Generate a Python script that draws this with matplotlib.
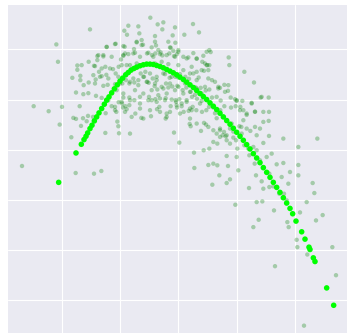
import matplotlib
matplotlib.use("Agg")
import matplotlib.pyplot as plt
import seaborn as sns
from matplotlib.ticker import MultipleLocator

sns.set_style("darkgrid")

scatter_x = [
    -84, -265, -150, -120, -62, -45, -10, 44, 62, -162, -154, -117, -70, -48, -17, 18,
    -125, -110, -106, -67, -30, -9, -366, -361,
    -188, -215, -161, -133, -80, -60, -53, -23, -15, 0, -4, 93, 97, 45,
    -240, -225, -160, -165, -150, -130, -94, -79, -69, -48, -27, -13, 15, 30, 55, 75, 72, 87, 93, 151, 153,
    -303, -318, -303, -294, -290, -269, -253, -243, -238, -219, -216, -196, -188, -179, -172, -155, -140,
    -124, -113, -99, -89, -77, -65, -40, -26, -9, 5, 21, 32, 45, 55, 61, 77, 90, 101,
    -294, -307, -284, -269, -248, -230, -225, -212, -190, -190, -168, -157, -147, -132, -120, -103, -93,
    -71, -63, -45, -37, -30, -18, -3, 13, 24, 37, 52, 67, 82, 93, 110, 120, 125, 138, 149, 198, 227,
    -285, -270, -247, -230, -215, -200, -190, -179, -169, -165, -147, -132, -115, -88, -80, -69, -55,
    -38, -20, -8, 3, 10, 25, 41, 50, 56, 70, 85, 101, 115, 127, 157, 170, 175, 192, 247, 271, 220,
    -434, -389, -349, -296, -315, -286, -271, -256, -275, -218, -186, -183, -166, -159, -155, -147,
    -129, -111, -82, -64, -57, -38, -35, -23, -7, -4, 10, 16, 31, 35, 43, 54, 71, 84, 92, 105, 110,
    115, 126, 138, 158, 172, 186, 195, 205, 230, 255, 272,
    -356, -321, -307, -292, -219, -180, -178, -145, -13, 3, 34, 37, 55, 68, 77, 83, 90, 105, 115,
    125, 133, 142, 137, 155, 165, 183, 189, 205, 216, 230, 255, 271, 315, 417,
    -308, -253, -231, -469,
    47, 76, 93, 105, 117, 125, 145, 155, 165, 173, 177, 198, 210, 225, 235, 255, 272, 280, 315, 335,
    360, 360, 48, 90, 105, 117, 145, 149, 175, 180, 213, 229, 245, 255, 265, 273, 295, 310, 330, 360,
    403, 408,
    102, 123, 145, 155, 212, 233, 250, 255, 273, 285, 303, 317,
    171, 235, 252, 287, 325, 327, 331, 355, 357, 365, 385, 413, 433, 225, 241, 290, 387, 462, 473, 377,
    -215, -190, -165, -125, -110, -70, -25, 0, 85,
    -243, -225, -200, -165, -135, -115, -90, -75, -55, -35, -10, 25, 55, 80,
    -250, -230, -205, -170, -145, -125, -70, -50, -30, 0, 15, 40, 70, 85,
    -255, -235, -210, -180, -155, -135, -105, -85, -65, -45, -20, 0, 35, 55, 90,
    -250, -175, -145, -120, -95, -70, -50, -25, 0, 20, 55, 80,
    -185, -165, -130, -105, -80, -60, -35, -10, 15, 35, 70,
    -210, -170, -145, -115, -90, -65, -40, -5, 25, 65,
    -190, -160, -115, -85, -55, -25, 5, 40,
    -140, -105, -35, 35,
    120, 150, 140, 175, 220, 250, 185, 205, 230, 135, 160, 195, 245, 125, 145, 190, 235,
]
scatter_y = [
    395, 360, 371, 369, 375, 381, 366, 376, 351, 356, 344, 348, 340, 360, 342, 344,
    321, 328, 314, 312, 323, 320, 315, 263,
    317, 307, 308, 301, 306, 298, 291, 305, 296, 293, 286, 298, 292, 289,
    283, 279, 288, 281, 286, 290, 288, 283, 288, 282, 288, 280, 278, 276, 272, 281, 263, 253, 253, 276, 253,
    252, 215, 239, 221, 253, 263, 251, 268, 233, 248, 224, 241, 228, 248, 270, 253, 241,
    246, 228, 233, 200, 213, 208, 226, 215, 218, 226, 218, 212, 228, 233, 216, 236, 238, 208,
    208, 171, 193, 201, 210, 220, 191, 194, 196, 183, 198, 208, 198, 201, 208, 218, 203,
    190, 180, 183, 198, 186, 189, 191, 178, 186, 173, 186, 185, 177, 180, 203, 183, 185, 194, 176, 233, 201,
    166, 169, 161, 155, 149, 130, 128, 142, 138, 156, 156, 148, 158, 158, 148, 151, 153,
    154, 150, 148, 151, 138, 148, 158, 164, 152, 146, 148, 156, 158, 147, 156, 151, 146, 146, 156, 156, 140,
    130, 115, 128, 130, 95, 94, 101, 98, 85, 109, 113, 84, 126, 130, 121, 133,
    108, 95, 100, 121, 128, 93, 108, 130, 143, 126, 130, 113, 116, 123, 128, 118, 113, 118, 128, 126, 109,
    94, 118, 130, 126, 130, 128, 118, 104, 114, 113, 113,
    75, 37, 92, 71, 50, 70, 49, 48, 51, 21, 77, 70, 78, 56, 80, 75, 68, 58, 48,
    63, 43, 40, 53, 63, 54, 70, 68, 63, 56, 68, 83, 86, 33, 33,
    -70, -72, -64, -49,
    -9, -2, 3, 23, 18, 38, 28, 18, 36, 28, 3, 13, 3, 8, -2, 20, 41, -12, -40, -67,
    8, -46, -55, -46, -42, -47, -19, -49, -22, -62, -17, -42, -32, -52, -22, -72, -44, -82, -102, -77,
    -100, -130,
    -105, -77, -100, -89, -115, -77, -95, -117, -112, -110, -132, -132,
    -165, -157, -155, -182, -152, -217, -232, -270, -292, -188, -157, -212, -196, -232, -210, -349, -314, -292, -376, -527,
    308, 316, 310, 323, 313, 323, 306, 298, 293,
    280, 283, 278, 283, 288, 278, 290, 278, 286, 283, 278, 273, 273, 258,
    250, 243, 243, 253, 253, 258, 258, 263, 256, 253, 238, 248, 238, 253,
    223, 218, 213, 218, 228, 213, 218, 228, 218, 228, 218, 216, 228, 208, 213,
    198, 198, 203, 193, 203, 198, 188, 198, 188, 198, 183, 188,
    178, 168, 178, 168, 178, 163, 168, 178, 168, 173, 168,
    148, 143, 148, 138, 148, 143, 148, 133, 143, 138,
    118, 113, 123, 118, 113, 113, 108, 118,
    98, 93, 98, 93,
    188, 193, 173, 148, 138, 158, 118, 108, 113, 98, 78, 88, 63, 58, 43, 48, 43,
]

fit_x = [
    -359, -307, -291, -283, -277, -272, -265, -259, -252, -245, -238, -230, -222, -215, -208, -200,
    -192, -183, -175, -167, -158, -150, -142, -133, -125, -115, -105, -95, -85, -75, -65, -55, -45,
    -35, -25, -15, -5, 5, 15, 25, 35, 45, 55, 65, 75, 85, 95, 105, 115, 125, 135, 145, 155, 165,
    175, 185, 195, 205, 215, 225, 235, 245, 255, 265, 275, 285, 295, 305, 315, 325, 335, 343, 353,
    370, 380, 392, 395, 405, 410, 445, 466,
]
fit_y = [
    -98, -10, 16, 30, 40, 50, 63, 73, 86, 98, 110, 123, 136, 148, 158, 170,
    182, 194, 205, 214, 224, 231, 238, 243, 247, 251, 254, 256, 256, 255, 252, 249, 245,
    240, 235, 230, 224, 217, 210, 202, 194, 186, 177, 168, 159, 150, 140, 130, 120, 109, 98, 87, 76, 64,
    52, 40, 28, 15, 2, -12, -25, -39, -54, -68, -83, -98, -113, -128, -144, -160, -176, -192, -214,
    -246, -268, -292, -299, -324, -335, -414, -466,
]

fig = plt.figure(figsize=(3.47, 3.34), dpi=100)
ax = fig.add_axes([8 / 347, 1 / 334, 339 / 347, 328 / 334])
ax.scatter(scatter_x, scatter_y, s=10, color="green", alpha=0.3, edgecolors="none")
ax.scatter(fit_x, fit_y, s=16, color="#00ff00", edgecolors="none")

ax.set_xlim(-511, 506)
ax.set_ylim(-549, 433)
ax.xaxis.set_major_locator(MultipleLocator(175))
ax.yaxis.set_major_locator(MultipleLocator(150))
ax.tick_params(labelbottom=False, labelleft=False, length=0)
for s in ax.spines.values():
    s.set_visible(False)

fig.savefig("out.png", dpi=100)
